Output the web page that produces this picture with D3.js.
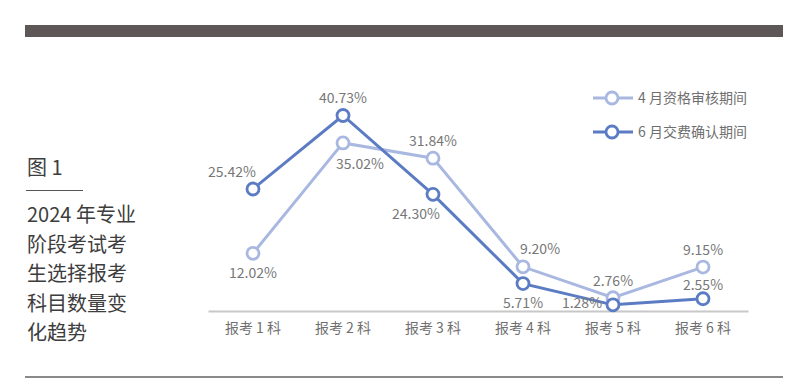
<!DOCTYPE html>
<html>
<head>
<meta charset="utf-8">
<script src="https://cdn.jsdelivr.net/npm/d3@7"></script>
<style>
    body { margin: 0; background: #fff; }
    text { font-family: "Noto Sans CJK SC", "Noto Sans", sans-serif; }
</style>
</head>
<body>
<svg id="chart" width="800" height="389"></svg>
<script>
    // data
    var categories = ['报考 1 科', '报考 2 科', '报考 3 科', '报考 4 科', '报考 5 科', '报考 6 科'];
    var seriesNames = ['4 月资格审核期间', '6 月交费确认期间'];
    var aprilValues = [12.02, 35.02, 31.84, 9.20, 2.76, 9.15];
    var juneValues = [25.42, 40.73, 24.30, 5.71, 1.28, 2.55];
    var titleLines = ['2024 年专业', '阶段考试考', '生选择报考', '科目数量变', '化趋势'];

    // where each value label sits relative to its point
    var aprilLabelPos = ['below', 'belowRight', 'above', 'aboveRight', 'above', 'above'];
    var juneLabelPos = ['aboveLeft', 'above', 'belowLeft', 'below', 'left', 'aboveNear'];

    var colors = ['#a9b8e0', '#5b7cc3'];

    var svg = d3.select('#chart');

    // top band and bottom rule
    svg.append('rect').attr('x', 25).attr('y', 25).attr('width', 758).attr('height', 12).attr('fill', '#5d5857');
    svg.append('rect').attr('x', 25).attr('y', 376).attr('width', 758).attr('height', 2).attr('fill', '#8a8a8a');

    // left caption
    svg.append('text').attr('x', 27).attr('y', 175).attr('font-size', 20).attr('fill', '#3d3d3d').text('图 1');
    svg.append('line').attr('x1', 26).attr('x2', 83).attr('y1', 190.5).attr('y2', 190.5)
        .attr('stroke', '#555').attr('stroke-width', 1);
    svg.append('g').selectAll('text').data(titleLines).enter().append('text')
        .attr('x', 27)
        .attr('y', function(d, i) { return 222 + i * 29.5; })
        .attr('font-size', 20)
        .attr('fill', '#3d3d3d')
        .text(function(d) { return d; });

    // scales
    var x = d3.scaleBand().domain(categories).range([208, 748]);
    var y = d3.scaleLinear().domain([0, 45]).range([311, 95]);
    var cx = function(i) { return x(categories[i]) + x.bandwidth() / 2; };

    // axis
    var axis = svg.append('g').attr('transform', 'translate(0,311)')
        .call(d3.axisBottom(x).tickSize(0).tickPadding(12));
    axis.select('.domain').attr('stroke', '#c8c8c8').attr('stroke-width', 2);
    axis.selectAll('text').attr('font-size', 14).attr('fill', '#6f6f6f')
        .style('font-family', '"Noto Sans CJK SC", sans-serif');

    var offsets = {
        above: [0, -17],
        aboveNear: [0, -14],
        below: [0, 20],
        belowRight: [17, 21],
        belowLeft: [-17, 20],
        aboveRight: [17, -18],
        aboveLeft: [-21, -17],
        left: [-31, -2]
    };

    var series = [
        { name: seriesNames[0], values: aprilValues, pos: aprilLabelPos, color: colors[0] },
        { name: seriesNames[1], values: juneValues, pos: juneLabelPos, color: colors[1] }
    ];

    var line = d3.line()
        .x(function(d, i) { return cx(i); })
        .y(function(d) { return y(d); });

    series.forEach(function(s) {
        var g = svg.append('g');
        g.append('path').datum(s.values)
            .attr('d', line)
            .attr('fill', 'none')
            .attr('stroke', s.color)
            .attr('stroke-width', 3);
        g.selectAll('circle').data(s.values).enter().append('circle')
            .attr('cx', function(d, i) { return cx(i); })
            .attr('cy', function(d) { return y(d); })
            .attr('r', 6)
            .attr('fill', '#fff')
            .attr('stroke', s.color)
            .attr('stroke-width', 2.8);
    });

    series.forEach(function(s) {
        svg.append('g').selectAll('text').data(s.values).enter().append('text')
            .attr('x', function(d, i) { return cx(i) + offsets[s.pos[i]][0]; })
            .attr('y', function(d, i) { return y(d) + offsets[s.pos[i]][1]; })
            .attr('dy', '0.35em')
            .attr('text-anchor', 'middle')
            .attr('font-size', 14)
            .attr('fill', '#777')
            .text(function(d) { return d.toFixed(2) + '%'; });
    });

    // legend
    var legend = svg.append('g').selectAll('g').data(series).enter().append('g')
        .attr('transform', function(d, i) { return 'translate(593,' + (98 + i * 34) + ')'; });
    legend.append('line').attr('x1', 0).attr('x2', 40)
        .attr('stroke', function(d) { return d.color; }).attr('stroke-width', 3);
    legend.append('circle').attr('cx', 19).attr('r', 6)
        .attr('fill', '#fff').attr('stroke', function(d) { return d.color; }).attr('stroke-width', 2.8);
    legend.append('text').attr('x', 45).attr('dy', '0.35em')
        .attr('font-size', 14).attr('fill', '#6f6f6f')
        .text(function(d) { return d.name; });
</script>
</body>
</html>
